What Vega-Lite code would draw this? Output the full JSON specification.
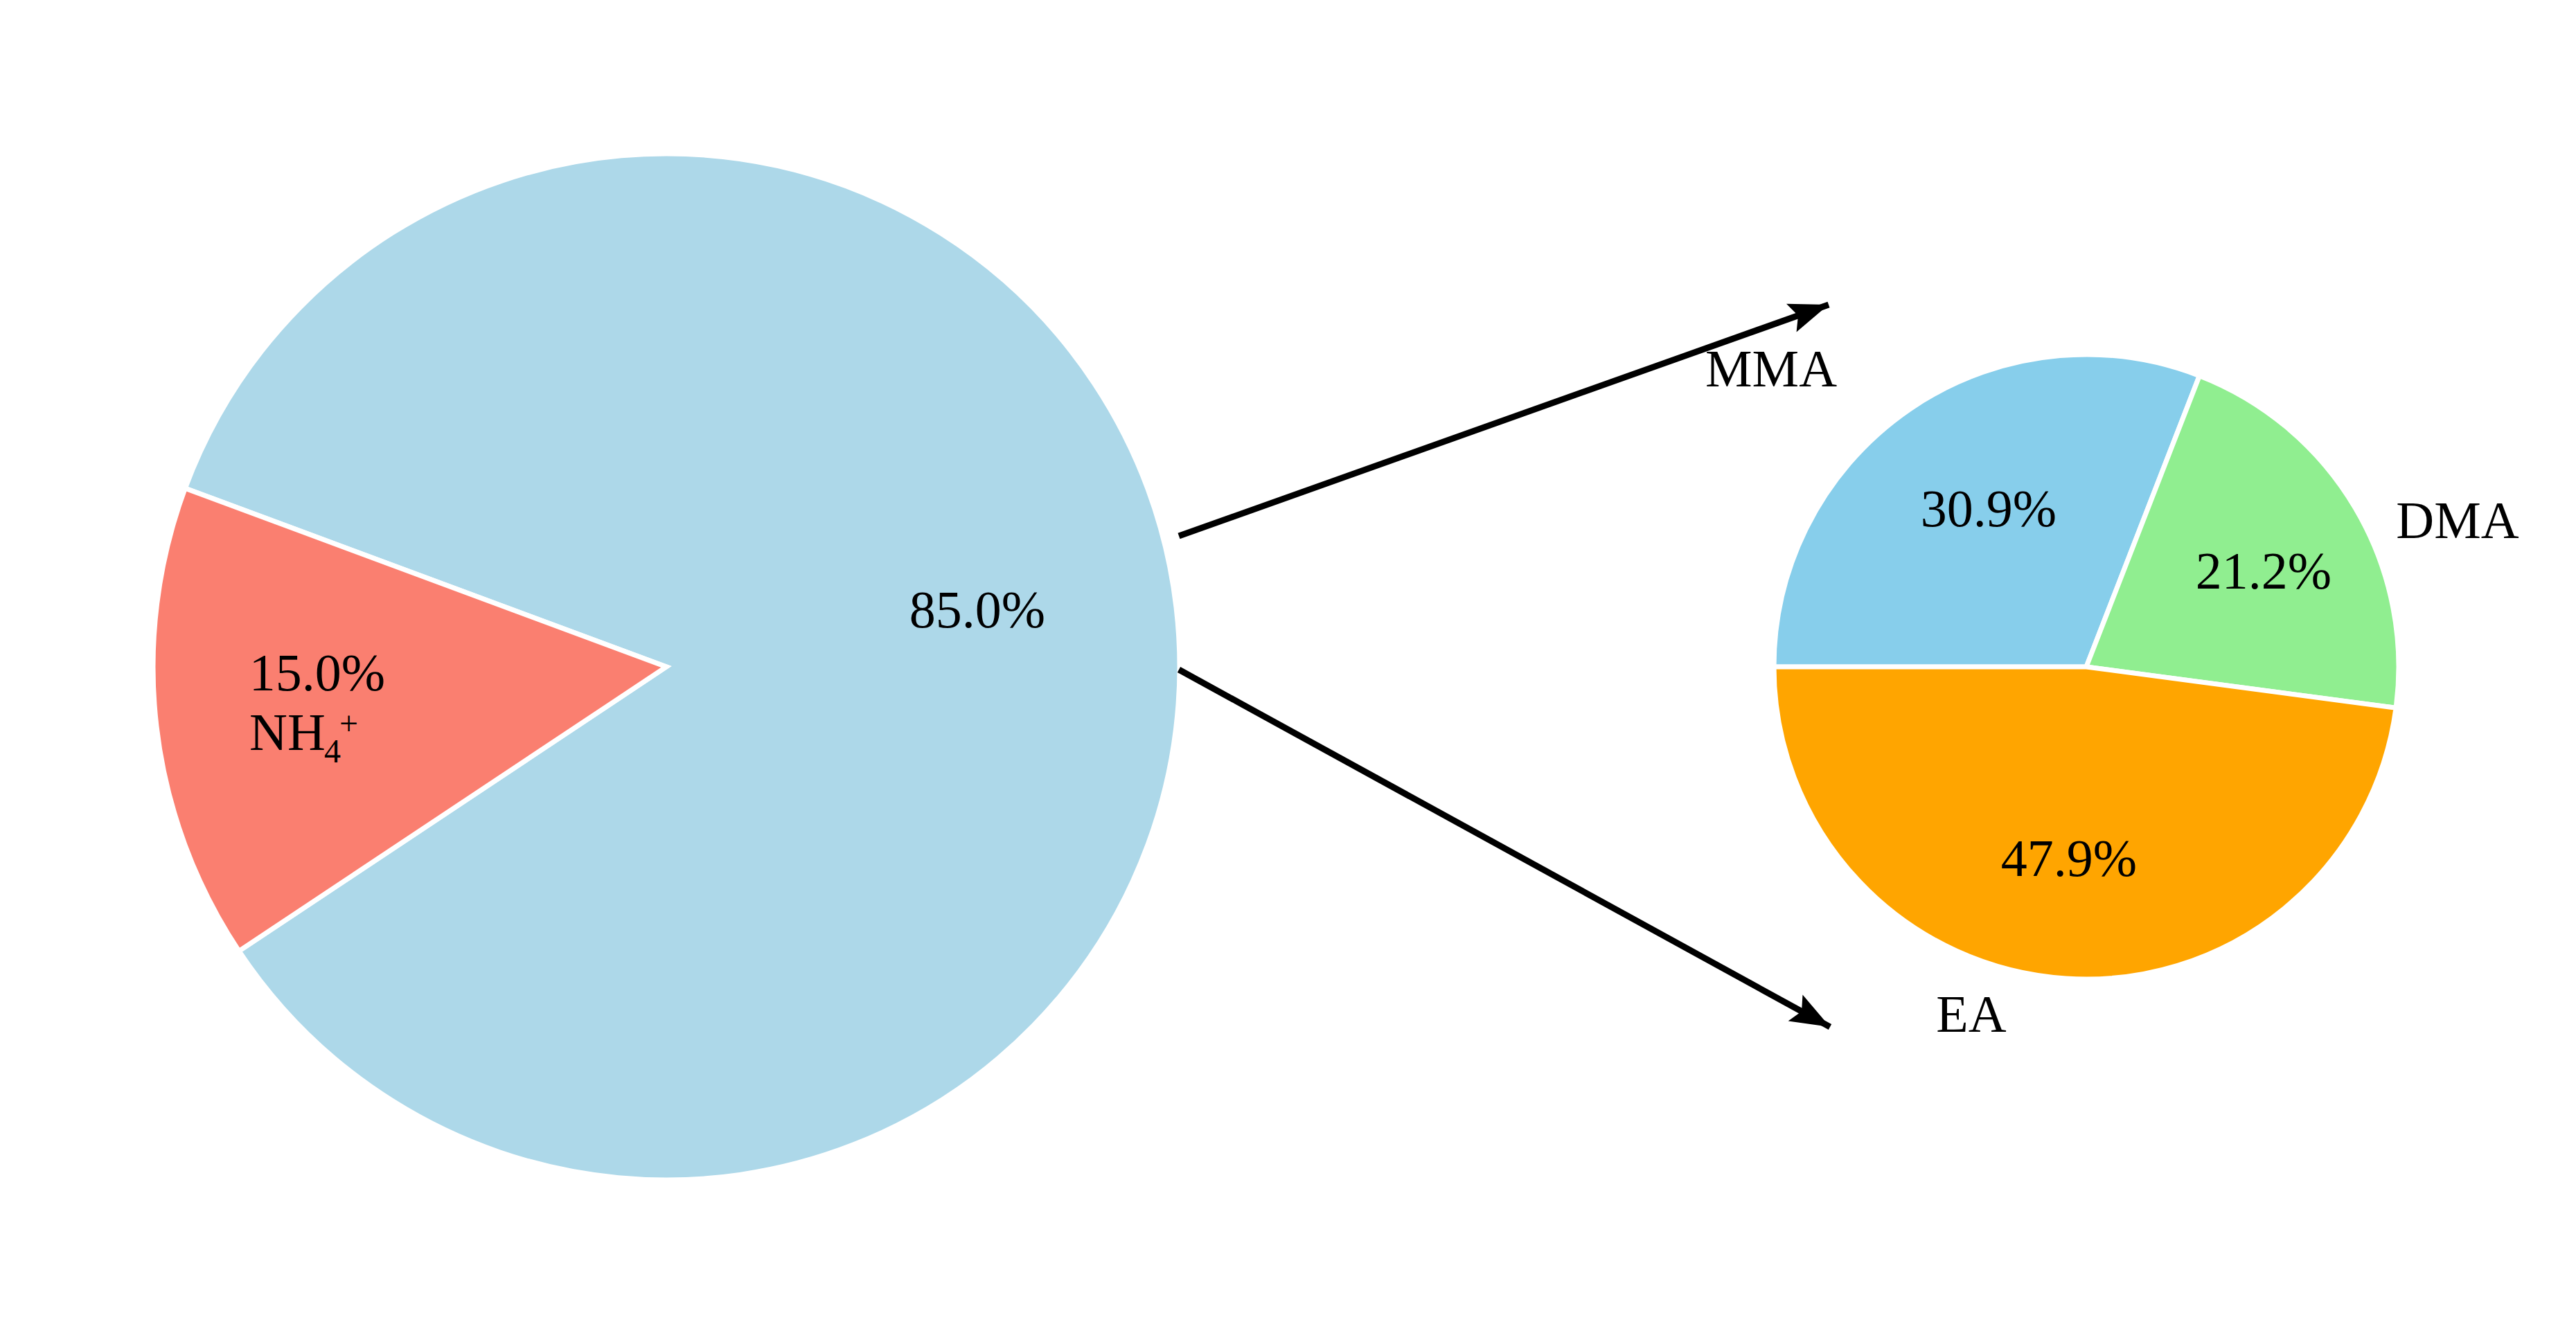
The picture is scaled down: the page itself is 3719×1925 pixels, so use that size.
{
  "$schema": "https://vega.github.io/schema/vega-lite/v6.json",
  "width": 3719,
  "height": 1925,
  "autosize": {"type": "fit", "contains": "padding"},
  "padding": 0,
  "background": "white",
  "config": {"view": {"stroke": null}},
  "datasets": {
    "overall": [
      {"slice": "Amines", "share": 85.0},
      {"slice": "NH4+", "share": 15.0}
    ],
    "amines": [
      {"slice": "MMA", "share": 30.9},
      {"slice": "DMA", "share": 21.2},
      {"slice": "EA", "share": 47.9}
    ],
    "arrows": [
      {"to": "MMA", "x0": 1702, "y0": 774, "x1": 2640, "y1": 440},
      {"to": "EA", "x0": 1702, "y0": 967, "x1": 2642, "y1": 1483}
    ],
    "labels": [
      {"text": "85.0%", "x": 1411, "y": 906},
      {"text": "15.0%", "x": 458, "y": 997},
      {"text": "MMA", "x": 2557, "y": 558},
      {"text": "DMA", "x": 3548, "y": 777},
      {"text": "EA", "x": 2846, "y": 1490},
      {"text": "30.9%", "x": 2871, "y": 760},
      {"text": "21.2%", "x": 3268, "y": 850},
      {"text": "47.9%", "x": 2987, "y": 1265}
    ],
    "nh4": [
      {"part": "NH", "x": 360, "y": 1083, "role": "base"},
      {"part": "4", "x": 468, "y": 1101, "role": "sub"},
      {"part": "+", "x": 490, "y": 1061, "role": "sup"}
    ]
  },
  "resolve": {"scale": {"theta": "independent", "color": "independent"}},
  "layer": [
    {
      "data": {"name": "overall"},
      "mark": {"type": "arc", "radius": 741, "stroke": "white", "strokeWidth": 7},
      "encoding": {
        "x": {"datum": 962, "type": "quantitative", "scale": {"domain": [0, 3719], "nice": false}, "axis": null},
        "y": {"datum": 963, "type": "quantitative", "scale": {"domain": [0, 1925], "nice": false, "reverse": true}, "axis": null},
        "theta": {"field": "share", "type": "quantitative", "stack": true, "scale": {"range": [5.068, 11.351]}},
        "order": {"field": "slice", "type": "ordinal", "sort": "ascending"},
        "color": {"field": "slice", "type": "nominal", "scale": {"domain": ["Amines", "NH4+"], "range": ["#ADD8E9", "#FA7F70"]}, "legend": null}
      }
    },
    {
      "data": {"name": "amines"},
      "mark": {"type": "arc", "radius": 451, "stroke": "white", "strokeWidth": 7},
      "encoding": {
        "x": {"datum": 3012, "type": "quantitative"},
        "y": {"datum": 963, "type": "quantitative"},
        "theta": {"field": "share", "type": "quantitative", "stack": true, "scale": {"range": [0.3707, 6.6539]}},
        "order": {"field": "slice", "type": "ordinal", "sort": "ascending"},
        "color": {"field": "slice", "type": "nominal", "scale": {"domain": ["MMA", "DMA", "EA"], "range": ["#87CEEB", "#90EE90", "#FFA500"]}, "legend": null}
      }
    },
    {
      "data": {"name": "arrows"},
      "mark": {"type": "rule", "color": "black", "strokeWidth": 9},
      "encoding": {
        "x": {"field": "x0", "type": "quantitative"},
        "y": {"field": "y0", "type": "quantitative"},
        "x2": {"field": "x1"},
        "y2": {"field": "y1"}
      }
    },
    {
      "data": {"name": "arrows"},
      "transform": [{"filter": "datum.to === 'MMA'"}],
      "mark": {"type": "point", "shape": "M0,0L0.38,1L0,0.82L-0.38,1Z", "size": 13000, "filled": true, "color": "black", "opacity": 1, "angle": 70.4, "strokeWidth": 0},
      "encoding": {
        "x": {"field": "x1", "type": "quantitative"},
        "y": {"field": "y1", "type": "quantitative"}
      }
    },
    {
      "data": {"name": "arrows"},
      "transform": [{"filter": "datum.to === 'EA'"}],
      "mark": {"type": "point", "shape": "M0,0L0.38,1L0,0.82L-0.38,1Z", "size": 13000, "filled": true, "color": "black", "opacity": 1, "angle": 118.8, "strokeWidth": 0},
      "encoding": {
        "x": {"field": "x1", "type": "quantitative"},
        "y": {"field": "y1", "type": "quantitative"}
      }
    },
    {
      "data": {"name": "labels"},
      "mark": {"type": "text", "font": "Liberation Serif", "fontSize": 76, "align": "center", "baseline": "alphabetic", "color": "black"},
      "encoding": {
        "x": {"field": "x", "type": "quantitative"},
        "y": {"field": "y", "type": "quantitative"},
        "text": {"field": "text", "type": "nominal"}
      }
    },
    {
      "data": {"name": "nh4"},
      "transform": [{"filter": "datum.role === 'base'"}],
      "mark": {"type": "text", "font": "Liberation Serif", "fontSize": 76, "align": "left", "baseline": "alphabetic", "color": "black"},
      "encoding": {
        "x": {"field": "x", "type": "quantitative"},
        "y": {"field": "y", "type": "quantitative"},
        "text": {"field": "part", "type": "nominal"}
      }
    },
    {
      "data": {"name": "nh4"},
      "transform": [{"filter": "datum.role !== 'base'"}],
      "mark": {"type": "text", "font": "Liberation Serif", "fontSize": 48, "align": "left", "baseline": "alphabetic", "color": "black"},
      "encoding": {
        "x": {"field": "x", "type": "quantitative"},
        "y": {"field": "y", "type": "quantitative"},
        "text": {"field": "part", "type": "nominal"}
      }
    }
  ]
}
